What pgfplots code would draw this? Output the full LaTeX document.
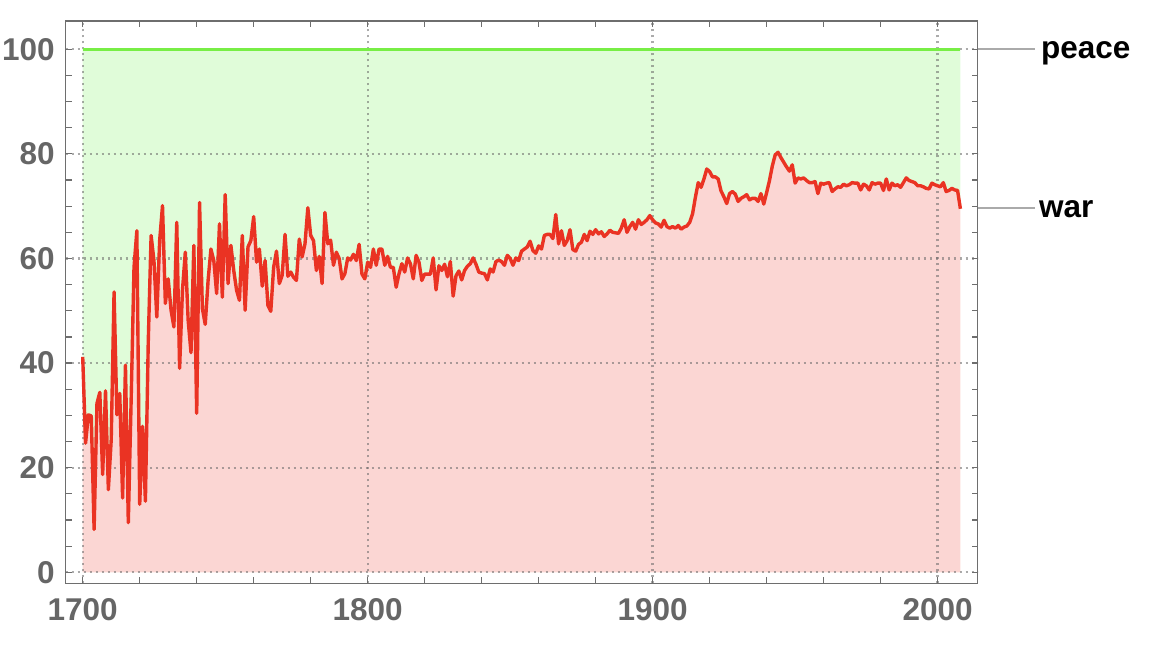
\documentclass[border=0pt]{standalone}
\usepackage{fontspec}
\setmainfont{Liberation Sans}
\usepackage{pgfplots}
\usepackage{pgfplotstable}
\pgfplotsset{compat=1.18}
\usepgfplotslibrary{fillbetween}

\definecolor{warred}{RGB}{234,51,35}
\definecolor{peacegreen}{RGB}{120,238,70}
\definecolor{warfill}{RGB}{251,214,211}
\definecolor{peacefill}{RGB}{224,252,217}
\definecolor{axisgray}{RGB}{110,110,110}
\definecolor{labelgray}{RGB}{102,102,102}
\definecolor{leadgray}{RGB}{170,170,170}

% fills (pre main) under the grid
\pgfplotsset{
    layers/fills under grid/.define layer set={
        axis background, pre main, axis grid, axis ticks, axis lines,
        axis tick labels, main, axis descriptions, axis foreground
    }{},
}

% share of years at war / peace
\pgfplotstableread{
year war
1700 41.2
1701 24.7
1702 30.1
1703 29.9
1704 8.2
1705 32.3
1706 34.4
1707 18.7
1708 34.7
1709 15.8
1710 25.3
1711 53.6
1712 30.1
1713 34.2
1714 14.2
1715 39.6
1716 9.5
1717 33.0
1718 58.3
1719 65.3
1720 13.0
1721 27.9
1722 13.6
1723 44.0
1724 64.4
1725 59.6
1726 48.8
1727 63.4
1728 70.1
1729 51.4
1730 56.1
1731 50.1
1732 46.9
1733 66.9
1734 39.0
1735 53.9
1736 61.2
1737 48.2
1738 42.0
1739 62.5
1740 30.4
1741 70.7
1742 50.4
1743 47.4
1744 55.8
1745 61.8
1746 59.6
1747 53.3
1748 66.6
1749 52.6
1750 72.2
1751 55.2
1752 62.5
1753 57.7
1754 53.9
1755 52.0
1756 64.4
1757 50.1
1758 62.2
1759 63.4
1760 68.0
1761 59.3
1762 61.8
1763 54.7
1764 59.6
1765 51.0
1766 49.9
1767 58.3
1768 61.4
1769 55.2
1770 56.8
1771 64.6
1772 56.6
1773 57.4
1774 56.4
1775 55.8
1776 63.7
1777 60.3
1778 62.8
1779 69.7
1780 64.4
1781 63.4
1782 57.7
1783 60.4
1784 55.2
1785 68.8
1786 62.8
1787 63.5
1788 58.7
1789 61.2
1790 60.0
1791 56.1
1792 57.1
1793 60.1
1794 59.7
1795 60.8
1796 59.6
1797 62.7
1798 57.0
1799 56.1
1800 59.3
1801 58.3
1802 61.8
1803 58.7
1804 61.8
1805 61.8
1806 58.7
1807 60.4
1808 58.3
1809 58.3
1810 54.5
1811 57.1
1812 59.0
1813 57.4
1814 60.1
1815 59.0
1816 56.1
1817 60.6
1818 59.3
1819 55.8
1820 57.0
1821 57.0
1822 57.0
1823 60.1
1824 54.0
1825 58.6
1826 57.7
1827 58.9
1828 56.5
1829 59.4
1830 52.8
1831 56.7
1832 57.6
1833 55.9
1834 57.7
1835 58.5
1836 59.0
1837 60.1
1838 58.9
1839 57.4
1840 57.2
1841 57.1
1842 55.9
1843 58.0
1844 57.4
1845 59.4
1846 59.7
1847 59.4
1848 58.7
1849 60.6
1850 60.0
1851 58.7
1852 60.1
1853 59.6
1854 61.4
1855 61.8
1856 62.2
1857 63.3
1858 61.5
1859 61.0
1860 62.4
1861 61.8
1862 64.4
1863 64.6
1864 64.6
1865 63.8
1866 68.4
1867 62.8
1868 65.3
1869 62.5
1870 63.4
1871 65.5
1872 61.7
1873 61.4
1874 62.7
1875 63.1
1876 64.6
1877 63.4
1878 65.2
1879 64.6
1880 65.5
1881 64.7
1882 65.1
1883 64.2
1884 64.7
1885 65.4
1886 65.0
1887 64.9
1888 64.8
1889 65.8
1890 67.4
1891 65.0
1892 66.1
1893 66.9
1894 65.6
1895 67.4
1896 66.5
1897 66.9
1898 67.4
1899 68.2
1900 67.4
1901 66.8
1902 66.6
1903 66.0
1904 67.3
1905 66.1
1906 65.8
1907 66.1
1908 65.8
1909 66.3
1910 65.6
1911 66.0
1912 66.2
1913 66.9
1914 68.5
1915 71.7
1916 74.5
1917 73.6
1918 75.2
1919 77.1
1920 76.6
1921 75.6
1922 75.6
1923 75.2
1924 72.9
1925 71.8
1926 70.5
1927 72.4
1928 72.8
1929 72.3
1930 70.9
1931 71.5
1932 71.8
1933 72.2
1934 71.2
1935 71.5
1936 71.5
1937 70.9
1938 72.4
1939 70.4
1940 72.6
1941 74.9
1942 77.7
1943 79.8
1944 80.3
1945 79.3
1946 78.4
1947 77.5
1948 76.7
1949 77.9
1950 74.4
1951 75.4
1952 75.2
1953 75.4
1954 74.9
1955 74.5
1956 74.5
1957 74.7
1958 72.4
1959 74.4
1960 74.2
1961 74.4
1962 74.5
1963 72.8
1964 73.3
1965 73.7
1966 73.6
1967 74.2
1968 73.9
1969 74.1
1970 74.5
1971 74.4
1972 74.4
1973 73.1
1974 74.2
1975 73.9
1976 73.1
1977 74.5
1978 74.2
1979 74.4
1980 74.4
1981 73.0
1982 75.2
1983 73.1
1984 74.4
1985 73.9
1986 74.1
1987 73.6
1988 74.5
1989 75.4
1990 74.9
1991 74.7
1992 74.5
1993 73.9
1994 73.9
1995 73.7
1996 73.4
1997 73.3
1998 74.4
1999 74.1
2000 73.9
2001 73.7
2002 74.5
2003 72.8
2004 73.0
2005 73.4
2006 73.1
2007 73.0
2008 69.5
}\wardata

\begin{document}
\begin{tikzpicture}
\begin{axis}[
    set layers=fills under grid,
    at={(32.75bp,32.25bp)}, anchor=south west,
    scale only axis, width=456bp, height=281.25bp,
    xmin=1693.96, xmax=2014, ymin=-2.14, ymax=105.4,
    xtick={1700,1800,1900,2000}, minor x tick num=4,
    ytick={0,20,40,60,80,100}, minor y tick num=3,
    tick align=inside,
    major tick length=3bp, minor tick length=3bp,
    every tick/.style={axisgray, line width=0.6bp},
    axis line style={axisgray, line width=0.65bp},
    grid=major,
    major grid style={black!60, opacity=0.55, line width=1.15bp, dash pattern=on 1.1bp off 1.9bp},
    ticklabel style={font=\fontsize{15.75bp}{18bp}\selectfont\bfseries, text=labelgray, inner sep=0pt},
    xticklabel style={yshift=-7.25bp},
    yticklabel style={xshift=-5.25bp},
    /pgf/number format/assume math mode=true,
    /pgf/number format/1000 sep={},
    clip=false,
]
\addplot[draw=none, name path=zero, forget plot] coordinates {(1700,0) (2008,0)};
\addplot[peacegreen, line width=1.7bp, name path=peace] coordinates {(1700,100) (2008,100)};
\addplot[warred, line width=1.7bp, line join=round, mark=none, name path=war] table[x=year, y=war] {\wardata};
\addplot[warfill, draw=none] fill between[of=war and zero];
\addplot[peacefill, draw=none] fill between[of=peace and war];

% labels at the right edge
\draw[leadgray, line width=1bp] (axis cs:2014,100) -- (axis cs:2034,100);
\draw[leadgray, line width=1bp] (axis cs:2014,69.6) -- (axis cs:2034,69.6);
\node[anchor=mid west, inner sep=0pt, yshift=-2bp, font=\fontsize{15.75bp}{18bp}\selectfont\bfseries]
    at (axis cs:2036.2,100) {peace};
\node[anchor=mid west, inner sep=0pt, yshift=-2bp, font=\fontsize{15.75bp}{18bp}\selectfont\bfseries]
    at (axis cs:2035.5,69.6) {war};
\end{axis}
\pgfresetboundingbox
\path (0,0) rectangle (581bp,324bp);
\end{tikzpicture}
\end{document}
